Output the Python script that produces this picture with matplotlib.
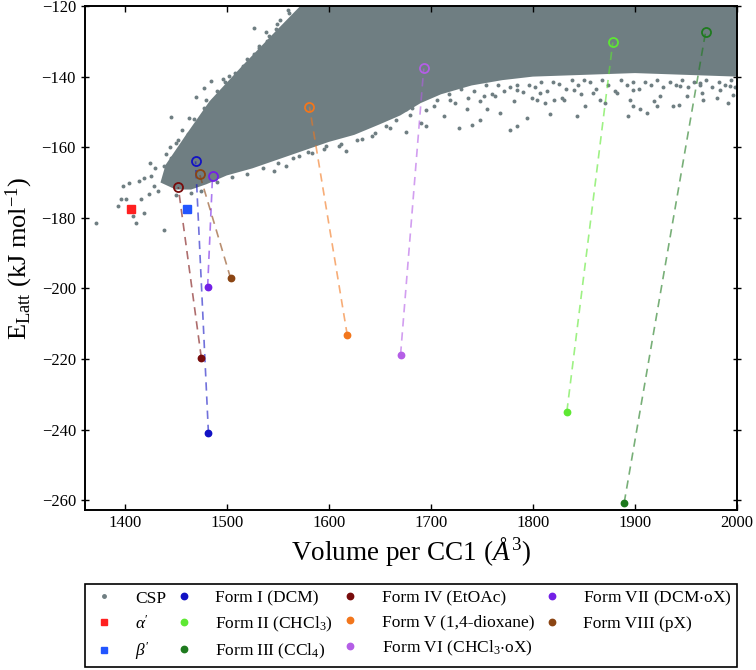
import matplotlib
matplotlib.use("Agg")
import matplotlib.pyplot as plt
from matplotlib.lines import Line2D

plt.rcParams['font.family'] = ['Liberation Serif', 'DejaVu Serif']
plt.rcParams['mathtext.fontset'] = 'custom'
plt.rcParams['mathtext.rm'] = 'Liberation Serif'
plt.rcParams['mathtext.it'] = 'Liberation Serif:italic'
plt.rcParams['mathtext.bf'] = 'Liberation Serif:bold'
plt.rcParams['mathtext.fallback'] = 'stix'

# ---------------- data ----------------
# dense core of the CSP landscape (outline of the solid cloud)
core_vol = [1435, 1450, 1465, 1480, 1500, 1525, 1550, 1575, 1600, 1625, 1650, 1670,
            1690, 1710, 1740, 1770, 1800, 1850, 1900, 1950, 2000,
            2000, 1572, 1545, 1515, 1483, 1460, 1440]
core_e = [-170, -172, -172, -170.5, -168, -166, -163.5, -161, -158.5, -156.5, -153.5, -151,
          -147.5, -145, -142.5, -141, -140, -139.5, -139, -139.5, -140,
          -120, -120, -128, -137, -147, -156.5, -165]

# individual CSP structures at the edge of the cloud
csp_vol = [1371.9, 1393.1, 1396.3, 1401.2, 1411.0, 1407.8, 1419.2, 1415.9, 1398.0, 1404.5,
           1414.3, 1419.2, 1425.7, 1429.0, 1424.1, 1432.2, 1438.7, 1438.7, 1445.3, 1445.3,
           1463.2, 1469.7, 1461.6, 1450.1, 1456.7, 1477.9, 1479.5, 1484.4, 1495.8, 1502.3,
           1512.1, 1515.4, 1525.2, 1526.8, 1531.7, 1539.8, 1549.6, 1557.8, 1561.0, 1569.2,
           1577.3, 1541.5, 1554.5, 1546.3, 1557.8, 1570.8, 1583.9, 1596.9, 1609.9, 1616.5,
           1632.8, 1642.5, 1655.6, 1675.2, 1665.4, 1675.2, 1681.7,
           1689.9, 1694.8, 1712.7, 1727.4, 1740.4, 1748.6, 1777.9, 1784.4, 1768.1, 1794.2,
           1817.0, 1843.1, 1830.1, 1851.3, 1866.0, 1893.7, 1898.6, 1905.1, 1911.6, 1921.4,
           1937.7, 1950.7, 1980.1, 1996.4, 1965.4, 1820.3, 1804.0, 1755.1, 1735.5, 1702.9,
           1719.2, 1751.8, 1784.4, 1807.3, 1839.9, 1859.4, 1882.3, 1898.6, 1924.7, 1944.2,
           1963.8, 1983.3, 1993.1,
           1700, 1706, 1712, 1718, 1724, 1730, 1736, 1742, 1748, 1754, 1760,
           1766, 1772, 1778, 1784, 1790, 1796, 1802, 1808, 1814, 1820, 1826, 1832, 1838,
           1844, 1850, 1856, 1862, 1868, 1874, 1880, 1886, 1892, 1898, 1904, 1910, 1916,
           1922, 1928, 1934, 1940, 1946, 1952, 1958, 1964, 1970, 1976, 1982, 1988, 1994, 1998,
           1763, 1781, 1799, 1812, 1829, 1847, 1871, 1895, 1919, 1943, 1967, 1991,
           1450, 1465, 1475, 1490, 1505, 1520, 1535, 1550, 1565, 1580, 1595, 1612, 1628,
           1645, 1660, 1680, 1695,
           1440, 1452, 1468, 1478, 1490, 1498, 1508, 1520, 1532, 1538, 1552, 1560, 1430, 1425,
           1444, 1456, 1486, 1512, 1527, 1548]
csp_e = [-181.6, -176.7, -174.8, -174.6, -181.6, -179.5, -178.6, -174.8, -171.0, -170.1,
         -169.6, -168.7, -168.2, -171.0, -173.4, -172.5, -183.6, -165.4, -163.0, -151.4,
         -151.7, -145.8, -156.4, -158.8, -161.1, -143.2, -146.5, -141.3, -140.8, -139.9,
         -138.9, -137.0, -135.6, -126.2, -131.4, -130.0, -125.2, -125.5, -121.9, -122.7,
         -120.8, -128.5, -128.5, -166.8, -165.4, -162.5, -161.6, -159.7, -159.7, -161.1,
         -157.8, -156.9, -154.0, -155.7, -152.2, -149.3, -148.8,
         -153.1, -154.0, -151.2, -154.5, -153.6, -152.2, -155.2, -154.0, -150.3, -151.7,
         -150.7, -151.2, -146.5, -148.4, -146.5, -151.2, -148.4, -149.3, -150.3, -148.4,
         -148.4, -145.5, -146.0, -145.1, -144.6, -146.5, -146.5, -149.3, -149.3, -148.4,
         -146.5, -145.5, -143.7, -144.6, -143.7, -144.6, -144.6, -143.7, -145.5, -142.7,
         -141.8, -143.7, -142.7,
         -144, -146.5, -143, -145, -147.5, -143.5, -146, -144, -147, -142.5, -145,
         -142.5, -144, -143, -142.5, -144.5, -142.5, -143, -141.5, -144, -141.5, -142, -143.5, -141,
         -142.5, -141, -141.5, -143.5, -141, -142.5, -144, -141, -142.5, -141.5, -143.5, -141.5, -142.5,
         -141, -143, -141.5, -142.5, -141, -143, -141.5, -142.5, -141, -143, -141.5, -142.5, -141, -143,
         -145.5, -147, -146, -147.5, -146, -145, -147.5, -146.5, -147, -148, -146.5, -147.5,
         -173.5, -173, -172.5, -170, -168.5, -167.5, -166, -164.5, -163, -161.5, -160.5, -159, -158,
         -156, -154.5, -151, -149.5,
         -162, -158, -152, -149, -144, -141.5, -139, -135, -132, -127.5, -124, -121, -166, -164.5,
         -160, -155, -146.5, -140, -133.5, -126.5]

# experimental structures (filled) and their CSP matches (open)
forms = ['Form I (DCM)', 'Form II (CHCl$_3$)', 'Form III (CCl$_4$)', 'Form IV (EtOAc)',
         'Form V (1,4-dioxane)', 'Form VI (CHCl$_3$$\\cdot$oX)', 'Form VII (DCM$\\cdot$oX)',
         'Form VIII (pX)']
form_colors = ['#1212c4', '#5ee833', '#1e7a1e', '#780c0c', '#f2761c', '#b45ee6',
               '#7320e6', '#8b4513']
exp_vol = [1482.0, 1833.3, 1889.5, 1475.0, 1618.1, 1670.3, 1481.2, 1503.7]
exp_e = [-241.0, -234.9, -260.7, -219.6, -213.3, -218.8, -199.7, -197.1]
match_vol = [1469.4, 1878.3, 1969.3, 1452.4, 1581.0, 1693.0, 1486.0, 1473.4]
match_e = [-164.0, -130.3, -127.3, -171.3, -148.5, -137.7, -168.3, -167.7]

alpha_vol, alpha_e = [1406.0], [-177.6]
beta_vol, beta_e = [1461.0], [-177.6]

csp_color = '#6f7e82'

# ---------------- figure ----------------
fig = plt.figure(figsize=(7.56, 6.70), dpi=100)
ax = fig.add_axes([0.1124, 0.2388, 0.8624, 0.7522])

ax.fill(core_vol, core_e, color=csp_color, lw=0, zorder=1)
ax.scatter(csp_vol, csp_e, s=8, color=csp_color, lw=0, zorder=1)

for i in range(len(forms)):
    ax.plot([exp_vol[i], match_vol[i]], [exp_e[i], match_e[i]], ls=(0, (5, 3.5)),
            lw=1.2, color=form_colors[i], alpha=0.6, zorder=2)
    ax.plot(match_vol[i], match_e[i], 'o', ms=6.5, mfc='none', mec=form_colors[i],
            mew=1.3, zorder=3)
    ax.plot(exp_vol[i], exp_e[i], 'o', ms=4.6, color=form_colors[i], zorder=4)

ax.plot(alpha_vol, alpha_e, 's', ms=6, color='#ff2020', zorder=4)
ax.plot(beta_vol, beta_e, 's', ms=6, color='#2255ff', zorder=4)

ax.set_xlim(1361, 2000)
ax.set_ylim(-262.8, -120)
ax.set_xticks([1400, 1500, 1600, 1700, 1800, 1900, 2000])
ax.set_yticks([-260, -240, -220, -200, -180, -160, -140, -120])
ax.tick_params(axis='both', labelsize=12, length=4, width=1, top=True, right=True,
               direction='in')
ax.tick_params(axis='y', which='both', left=True, direction='inout', length=6)
ax.tick_params(axis='y', right=True, labelright=False)
for s in ax.spines.values():
    s.set_linewidth(1.4)

ax.set_xlabel('Volume per CC1 ($\\mathit{Å}^3$)', fontsize=19.5, labelpad=3)
ax.set_ylabel('E$_{\\mathrm{Latt}}$ (kJ mol$^{-1}$)', fontsize=19)
ax.yaxis.set_label_coords(-0.077, 0.5)

# ---------------- legend ----------------
handles = [Line2D([], [], ls='none', marker='o', ms=2.5, color=csp_color),
           Line2D([], [], ls='none', marker='s', ms=5, color='#ff2020'),
           Line2D([], [], ls='none', marker='s', ms=5, color='#2255ff')]
labels = ['CSP', "$\\alpha'$", "$\\beta'$"]
for i in range(len(forms)):
    handles.append(Line2D([], [], ls='none', marker='o', ms=4.6, color=form_colors[i]))
    labels.append(forms[i])

leg = fig.legend(handles, labels, ncol=4, loc='center', mode='expand',
                 bbox_to_anchor=(0.1124, 0.0045, 0.8624, 0.124),
                 fontsize=12.5, frameon=True, fancybox=False, edgecolor='black',
                 framealpha=1, handlelength=1.6, handletextpad=1.0, borderaxespad=0,
                 labelspacing=0.45, borderpad=0.3)
leg.get_frame().set_linewidth(1.2)

fig.savefig('out.png', dpi=100)
